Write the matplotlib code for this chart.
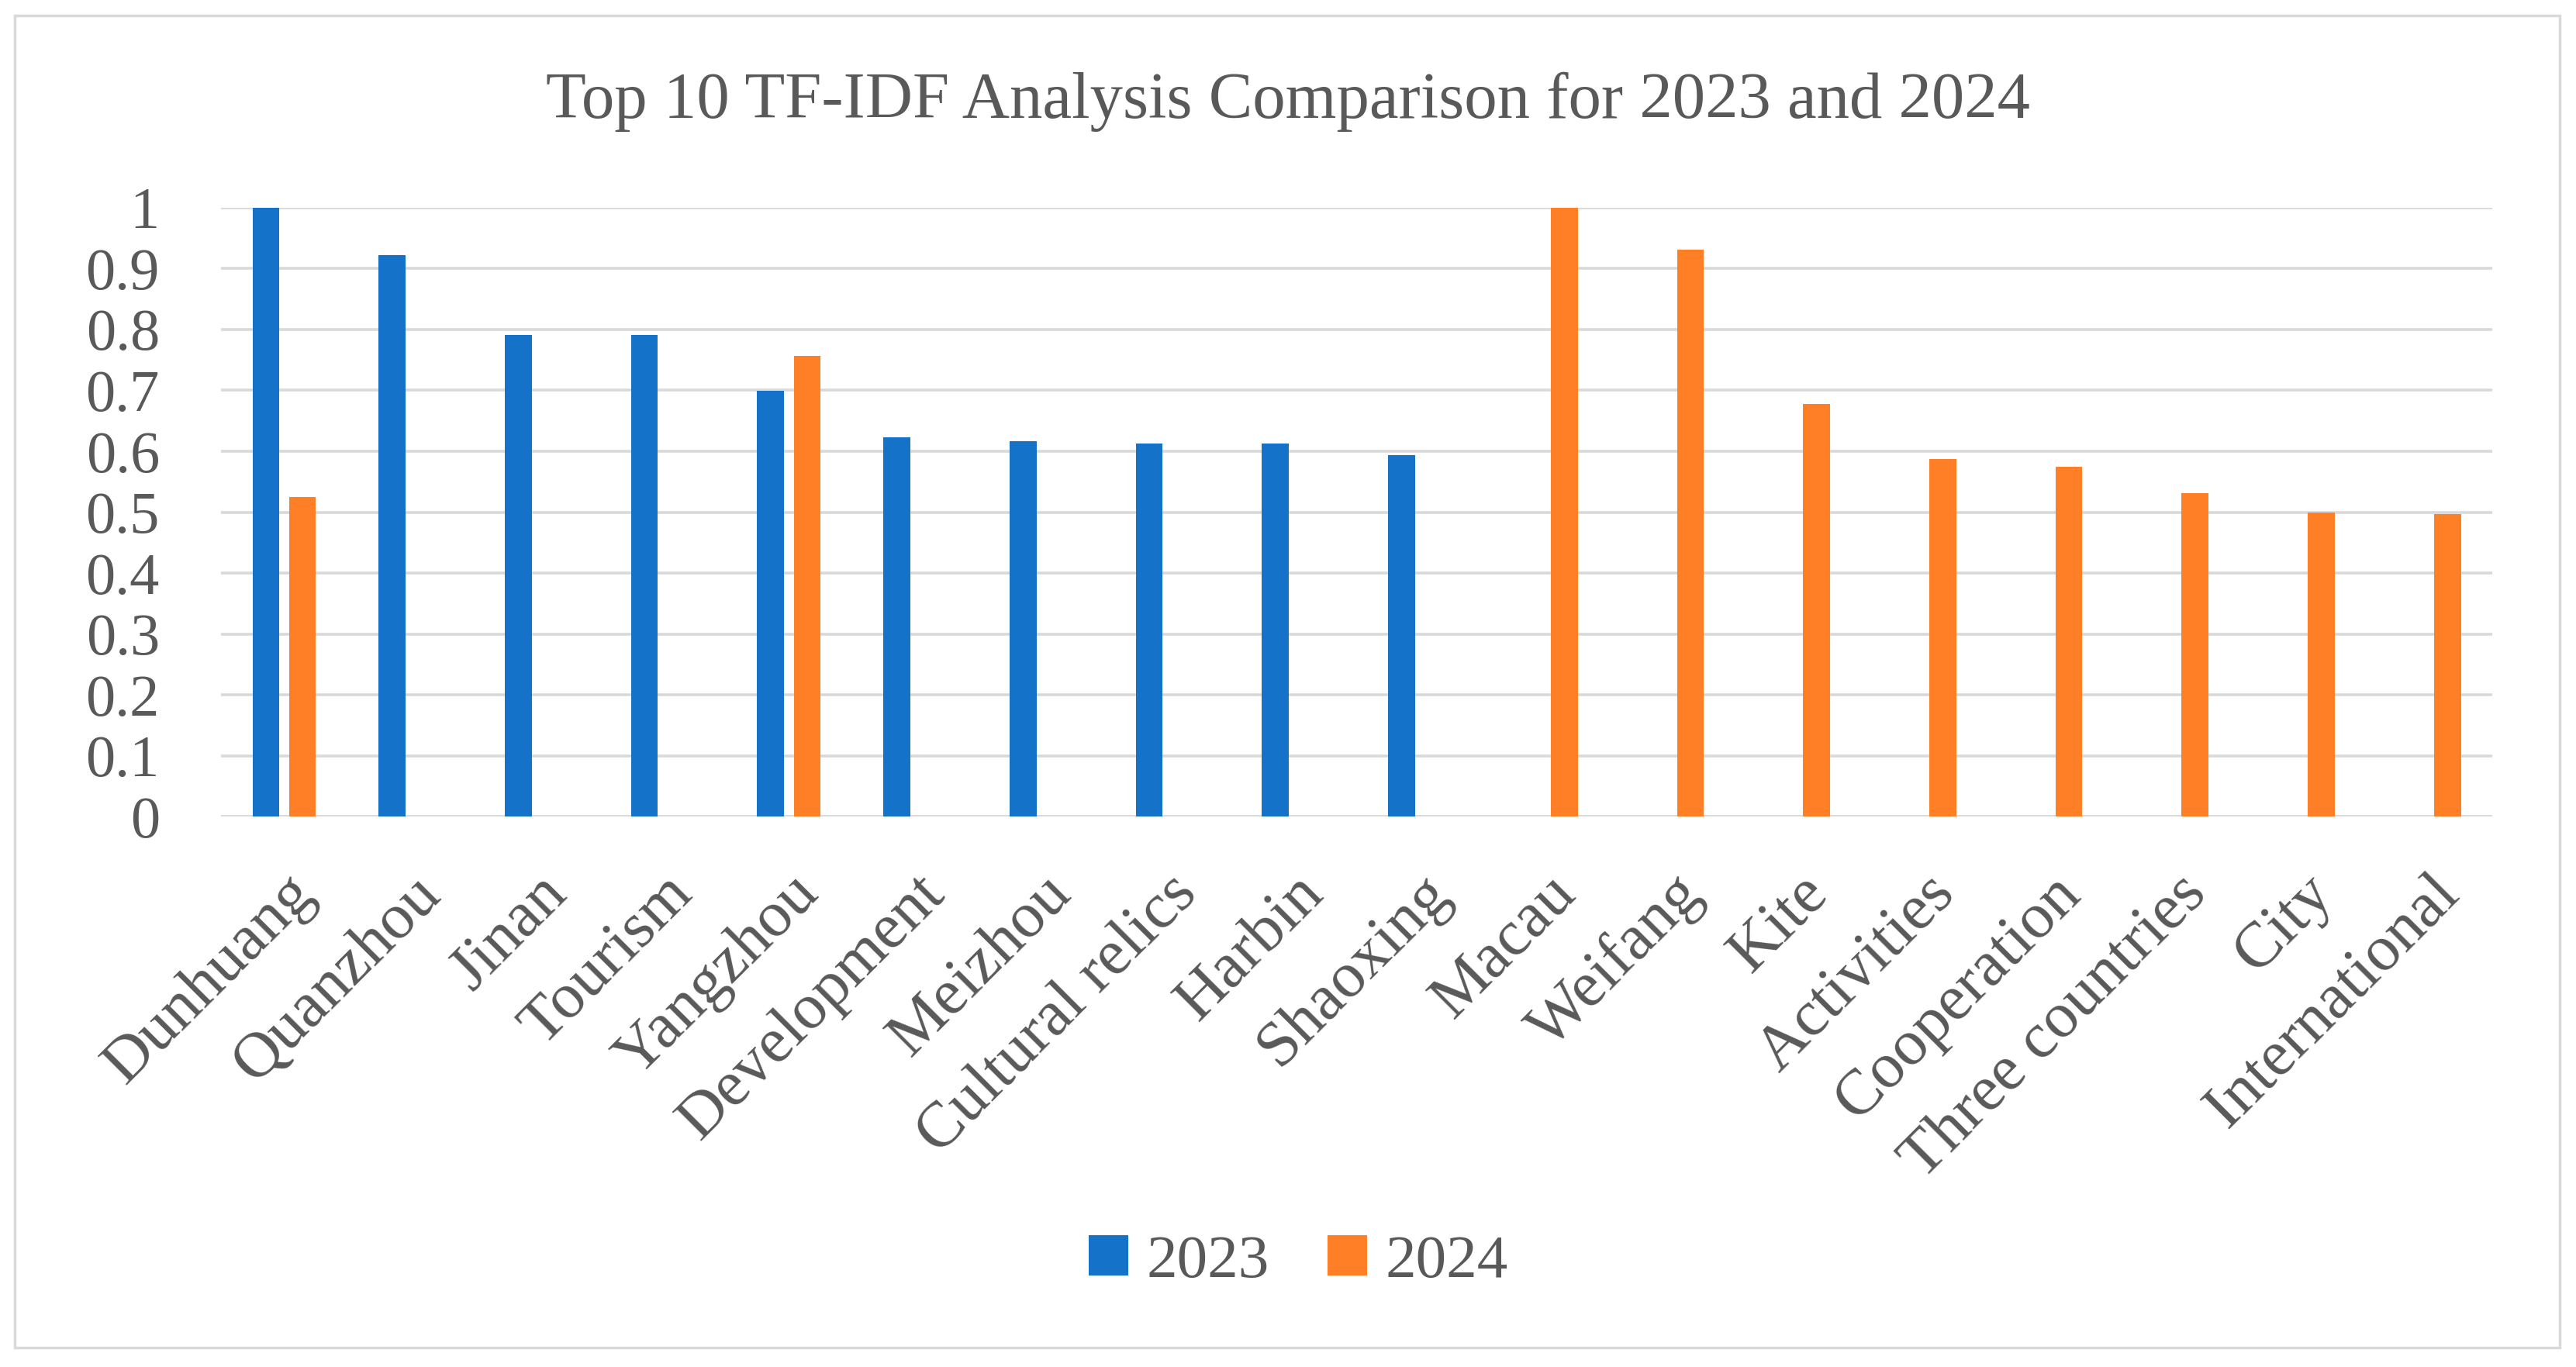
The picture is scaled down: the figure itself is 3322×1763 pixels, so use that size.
import matplotlib.pyplot as plt
import matplotlib.transforms as mtransforms
from matplotlib.patches import Rectangle
import numpy as np

categories = ['Dunhuang', 'Quanzhou', 'Jinan', 'Tourism', 'Yangzhou', 'Development',
              'Meizhou', 'Cultural relics', 'Harbin', 'Shaoxing', 'Macau', 'Weifang',
              'Kite', 'Activities', 'Cooperation', 'Three countries', 'City', 'International']
# nan = no bar for that year
vals_2023 = [1.0, 0.922, 0.791, 0.791, 0.699, 0.623, 0.617, 0.613, 0.613, 0.593,
             np.nan, np.nan, np.nan, np.nan, np.nan, np.nan, np.nan, np.nan]
vals_2024 = [0.525, np.nan, np.nan, np.nan, 0.757, np.nan, np.nan, np.nan, np.nan, np.nan,
             1.0, 0.931, 0.678, 0.587, 0.574, 0.531, 0.500, 0.497]
yticks = [0, 0.1, 0.2, 0.3, 0.4, 0.5, 0.6, 0.7, 0.8, 0.9, 1]
ytick_labels = ['0', '0.1', '0.2', '0.3', '0.4', '0.5', '0.6', '0.7', '0.8', '0.9', '1']

blue = '#1572C9'
orange = '#FF7F27'
txt = '#595959'
grid = '#D9D9D9'

plt.rcParams['font.family'] = ['Liberation Serif', 'DejaVu Serif']

fig = plt.figure(figsize=(33.23, 17.63), dpi=100)
ax = fig.add_axes([0.0858, 0.4027, 0.8814, 0.4453])

x = np.arange(len(categories))
w = 0.213
ax.bar(x - 0.145, vals_2023, w, color=blue, label='2023', zorder=3)
ax.bar(x + 0.145, vals_2024, w, color=orange, label='2024', zorder=3)

ax.set_xlim(-0.5, len(categories) - 0.5)
ax.set_ylim(0, 1)
ax.set_yticks(yticks)
ax.set_yticklabels(ytick_labels)
ax.yaxis.grid(True, color=grid, linewidth=2.6, zorder=0)
ax.set_axisbelow(True)
for s in ax.spines.values():
    s.set_visible(False)
ax.axhline(0, color=grid, linewidth=2.6, zorder=1)

ax.tick_params(axis='y', length=0, pad=57, labelsize=55, labelcolor=txt)
ax.tick_params(axis='x', length=0, pad=44, labelsize=60, labelcolor=txt)
ax.set_xticks(x)
ax.set_xticklabels(categories)
offset = mtransforms.ScaledTranslation(0, 0, fig.dpi_scale_trans)
for lab in ax.get_xticklabels():
    lab.set_rotation(45)
    lab.set_ha('right')
    lab.set_va('top')
    lab.set_rotation_mode('anchor')
    lab.set_transform(lab.get_transform() + offset)

fig.text(0.5, 1 - 131 / 1763, 'Top 10 TF-IDF Analysis Comparison for 2023 and 2024',
         ha='center', va='center', fontsize=61, color=txt)

leg = fig.legend(loc='center', bbox_to_anchor=(0.504, 1 - 1628 / 1763), ncol=2,
                 frameon=False, fontsize=57, labelcolor=txt, handlelength=0.64,
                 handleheight=0.64, handletextpad=0.3, columnspacing=0.95)

fig.patches.append(Rectangle((19 / 3323, 1 - 1738 / 1763), (3301 - 19) / 3323,
                             (1738 - 20) / 1763, transform=fig.transFigure,
                             fill=False, edgecolor=grid, linewidth=2.5))

fig.savefig('out.png', dpi=100, facecolor='white')
